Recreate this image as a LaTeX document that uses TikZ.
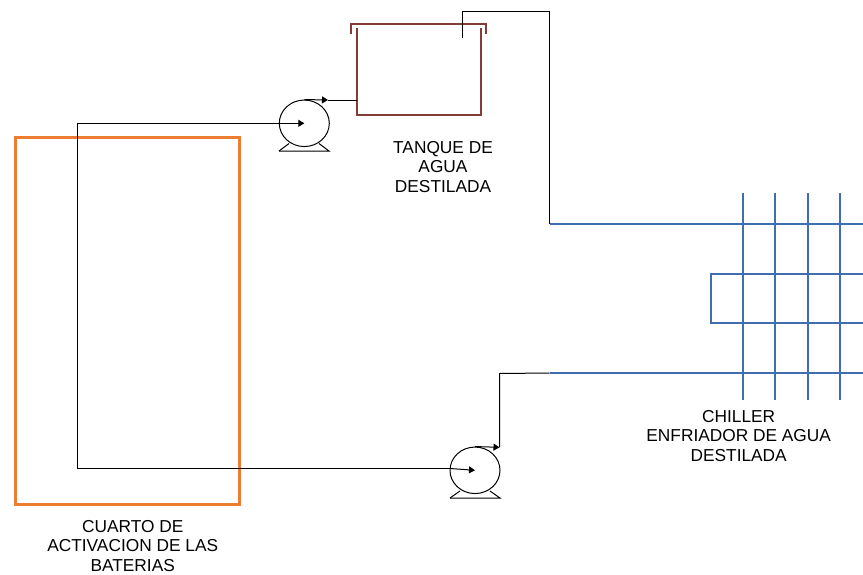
\documentclass[tikz,border=0pt]{standalone}
\usepackage{fontspec}
\setmainfont{Liberation Sans}
\usetikzlibrary{shapes.geometric,arrows.meta}
\definecolor{pipeblue}{HTML}{3F6DB0}
\definecolor{tankred}{HTML}{843C39}
\definecolor{roomorange}{HTML}{ED7D31}
\tikzset{
  pumpbody/.style={draw=black,line width=1pt,ellipse,minimum width=50pt,minimum height=46.5pt,inner sep=0pt},
  pumpbase/.style={draw=black,line width=1pt},
  pipe/.style={draw=black,line width=1pt},
  flow/.style={draw=black,line width=1pt,-{Triangle[length=6pt,width=7pt]}},
  bluepipe/.style={draw=pipeblue,line width=2pt},
  tankline/.style={draw=tankred,line width=2pt},
  caption/.style={align=center,font=\fontsize{17.3}{19.2}\selectfont,inner sep=0pt}
}
\begin{document}
\begin{tikzpicture}[x=1pt,y=-1pt]
\useasboundingbox (0,0) rectangle (863,574);
% room
\node[draw=roomorange,line width=3pt,minimum width=224pt,minimum height=367pt,inner sep=0pt] (room) at (127,320.5) {};
% pumps
\node[pumpbody] (pumpA) at (304.3,123.3) {};
\node[pumpbody] (pumpB) at (475,470.3) {};
\draw[pumpbase] (279,151) -- (329,151) -- (319,143.5);
\draw[pumpbase] (279,151) -- (289,143.5);
\draw[pumpbase] (450,498) -- (500,498) -- (490,491);
\draw[pumpbase] (450,498) -- (460,491);
% tank
\coordinate (tl) at (356.7,28);
\coordinate (tr) at (480.7,28);
\coordinate (tankin) at (356.7,100);
\draw[tankline,line join=miter] (tl) -- (356.7,114.7) -- (480.7,114.7) -- (tr);
\draw[tankline,line join=miter] (351.3,33.5) -- (351.3,23.7) -- (486.3,23.7) -- (486.3,33.5);
% return pipe
\coordinate (corner1) at (77,123.3);
\coordinate (corner2) at (77,468.5);
\draw[pipe] (corner1) -- (corner2) -- (450,468.5);
\draw[flow] (corner1) -- (pumpA.center);
\draw[flow] (450,468.5) -- (pumpB.center);
% pump A to tank
\coordinate (aflow) at (328,100);
\draw[flow] (pumpA.north) -- (aflow);
\draw[pipe] (aflow) -- (tankin);
% tank to chiller
\coordinate (drop) at (462,38);
\coordinate (chillA) at (549.5,223.5);
\draw[pipe] (drop) -- (462,11.5) -- (549.5,11.5) -- (chillA);
% pump B to chiller
\coordinate (chillB) at (549.5,373);
\coordinate (bflow) at (499.5,447.3);
\draw[flow] (pumpB.north) -- (bflow);
\draw[pipe] (bflow) -- (499.5,373.5) -- (chillB);
% chiller
\draw[bluepipe] (chillA) -- (863,223.5);
\draw[bluepipe] (chillB) -- (863,373);
\draw[bluepipe,line join=miter] (863,273.7) -- (710.7,273.7) -- (710.7,323) -- (863,323);
\foreach \x in {743,775,807.5,840} \draw[bluepipe] (\x,193) -- (\x,400);
% labels
\node[caption] (tanklabel) at (443,167) {TANQUE DE\\AGUA\\DESTILADA};
\node[caption] (chillerlabel) at (738.7,436) {CHILLER\\ENFRIADOR DE AGUA\\DESTILADA};
\node[caption] (roomlabel) at (132.7,546) {CUARTO DE\\ACTIVACION DE LAS\\BATERIAS};
\end{tikzpicture}
\end{document}
